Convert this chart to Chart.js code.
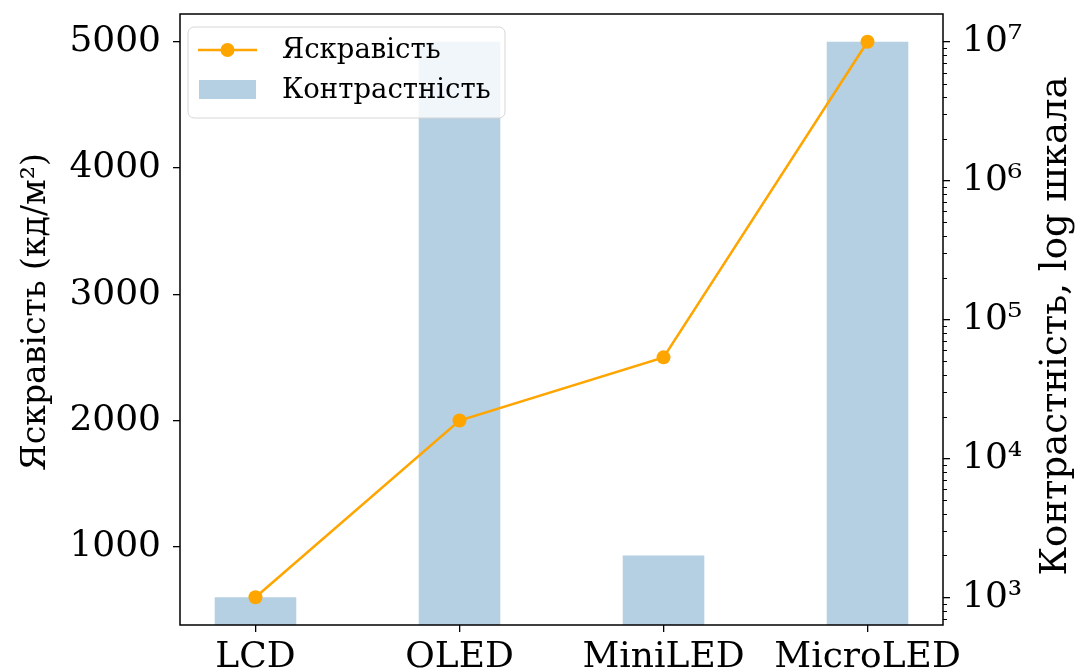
<!DOCTYPE html>
<html>
<head>
<meta charset="utf-8">
<script src="https://cdn.jsdelivr.net/npm/chart.js@4"></script>
<style>
  html, body { margin: 0; padding: 0; background: #fff; }
  #wrap { width: 1078px; height: 671px; position: relative; }
</style>
</head>
<body>
<div id="wrap"><canvas id="c" width="1078" height="671"></canvas></div>
<script>
// ---- data ----
const categories = ['LCD', 'OLED', 'MiniLED', 'MicroLED'];
const brightness = [600, 2000, 2500, 5000];          // кд/м²
const contrast = [1000, 10000000, 2000, 10000000];   // log scale
const leftTicks = [1000, 2000, 3000, 4000, 5000];
const rightTicks = [1e3, 1e4, 1e5, 1e6, 1e7];
const rightTickLabels = ['10³', '10⁴', '10⁵', '10⁶', '10⁷'];
const seriesNames = ['Яскравість', 'Контрастність'];
const axisTitles = ['Яскравість (кд/м²)', 'Контрастність, log шкала'];

const FONT = "'DejaVu Serif', serif";
const ORANGE = '#FFA500';
const BLUE = '#b5cfe3';

const positions = categories.map((_, i) => i);

function noPad(s) { s.paddingTop = 0; s.paddingBottom = 0; s.paddingLeft = 0; s.paddingRight = 0; }

const framePlugin = {
  id: 'frame',
  afterDraw(chart) {
    const ctx = chart.ctx;
    const a = chart.chartArea;
    ctx.save();
    // frame
    ctx.strokeStyle = '#000';
    ctx.lineWidth = 1.5;
    ctx.strokeRect(a.left, a.top, a.right - a.left, a.bottom - a.top);
    // minor log ticks on right axis
    const yr = chart.scales.y2;
    ctx.lineWidth = 1;
    for (let e = 2; e <= 7; e++) {
      for (let m = 2; m <= 9; m++) {
        const v = m * Math.pow(10, e);
        if (v < yr.min || v > yr.max) continue;
        const py = Math.round(yr.getPixelForValue(v)) + 0.5;
        ctx.beginPath();
        ctx.moveTo(a.right, py);
        ctx.lineTo(a.right + 4, py);
        ctx.stroke();
      }
    }
    // axis titles
    ctx.fillStyle = '#000';
    ctx.textAlign = 'center';
    ctx.textBaseline = 'middle';
    ctx.save();
    ctx.font = '33px ' + FONT;
    ctx.translate(36, 312);
    ctx.rotate(-Math.PI / 2);
    ctx.fillText(axisTitles[0], 0, 0);
    ctx.restore();
    ctx.save();
    ctx.font = '37px ' + FONT;
    ctx.translate(1056, 326);
    ctx.rotate(-Math.PI / 2);
    ctx.fillText(axisTitles[1], 0, 0);
    ctx.restore();

    // legend
    const lx = 188, ly = 27, lw = 317, lh = 91, r = 6;
    ctx.beginPath();
    ctx.moveTo(lx + r, ly);
    ctx.arcTo(lx + lw, ly, lx + lw, ly + lh, r);
    ctx.arcTo(lx + lw, ly + lh, lx, ly + lh, r);
    ctx.arcTo(lx, ly + lh, lx, ly, r);
    ctx.arcTo(lx, ly, lx + lw, ly, r);
    ctx.closePath();
    ctx.fillStyle = 'rgba(255,255,255,0.8)';
    ctx.fill();
    ctx.strokeStyle = '#d6d6d6';
    ctx.lineWidth = 1;
    ctx.stroke();
    // line sample
    ctx.strokeStyle = ORANGE;
    ctx.lineWidth = 2.5;
    ctx.beginPath();
    ctx.moveTo(198, 50);
    ctx.lineTo(257, 50);
    ctx.stroke();
    ctx.fillStyle = ORANGE;
    ctx.beginPath();
    ctx.arc(227.5, 50, 7, 0, Math.PI * 2);
    ctx.fill();
    // bar sample
    ctx.fillStyle = BLUE;
    ctx.fillRect(199, 80, 57, 19);
    ctx.fillStyle = '#000';
    ctx.font = '27.5px ' + FONT;
    ctx.textAlign = 'left';
    ctx.textBaseline = 'middle';
    ctx.fillText(seriesNames[0], 282, 51);
    ctx.fillText(seriesNames[1], 282, 91);
    ctx.restore();
  }
};

new Chart(document.getElementById('c'), {
  data: {
    datasets: [
      {
        type: 'line',
        label: seriesNames[0],
        data: positions.map((x, i) => ({ x, y: brightness[i] })),
        yAxisID: 'y',
        borderColor: ORANGE,
        backgroundColor: ORANGE,
        borderWidth: 2.5,
        pointRadius: 7,
        pointHoverRadius: 7,
        pointBorderWidth: 0,
        tension: 0,
        order: 0
      },
      {
        type: 'bar',
        label: seriesNames[1],
        data: positions.map((x, i) => ({ x, y: contrast[i] })),
        yAxisID: 'y2',
        backgroundColor: BLUE,
        borderWidth: 0,
        categoryPercentage: 1.0,
        barPercentage: 0.4,
        order: 1
      }
    ]
  },
  options: {
    responsive: false,
    animation: false,
    layout: { padding: { top: 14, left: 0, right: 0, bottom: 0 } },
    plugins: { legend: { display: false }, tooltip: { enabled: false } },
    scales: {
      x: {
        type: 'linear',
        min: -0.37,
        max: 3.37,
        offset: false,
        afterBuildTicks(s) { s.ticks = positions.map(v => ({ value: v })); },
        afterFit(s) { s.height = 46; noPad(s); },
        ticks: {
          callback: (v) => categories[v] ?? '',
          color: '#000',
          font: { family: FONT, size: 36 },
          padding: 4,
          maxRotation: 0,
          autoSkip: false
        },
        grid: { display: true, offset: false, drawOnChartArea: false, tickLength: 7, color: '#000', lineWidth: 1.3 },
        border: { display: false }
      },
      y: {
        type: 'linear',
        position: 'left',
        min: 380,
        max: 5220,
        afterBuildTicks(s) { s.ticks = leftTicks.map(v => ({ value: v })); },
        afterFit(s) { s.width = 180; noPad(s); },
        ticks: {
          callback: (v) => String(v),
          color: '#000',
          font: { family: FONT, size: 36 },
          padding: 12
        },
        grid: { display: true, drawOnChartArea: false, tickLength: 7, color: '#000', lineWidth: 1.3 },
        border: { display: false }
      },
      y2: {
        type: 'logarithmic',
        position: 'right',
        min: Math.pow(10, 2.8),
        max: Math.pow(10, 7.2),
        afterBuildTicks(s) { s.ticks = rightTicks.map(v => ({ value: v })); },
        afterFit(s) { s.width = 135; noPad(s); },
        ticks: {
          callback: (v) => { const i = rightTicks.indexOf(v); return i >= 0 ? rightTickLabels[i] : ''; },
          color: '#000',
          font: { family: FONT, size: 36 },
          padding: 12,
          autoSkip: false
        },
        grid: { display: true, drawOnChartArea: false, tickLength: 7, color: '#000', lineWidth: 1.3 },
        border: { display: false }
      }
    }
  },
  plugins: [framePlugin]
});
</script>
</body>
</html>
